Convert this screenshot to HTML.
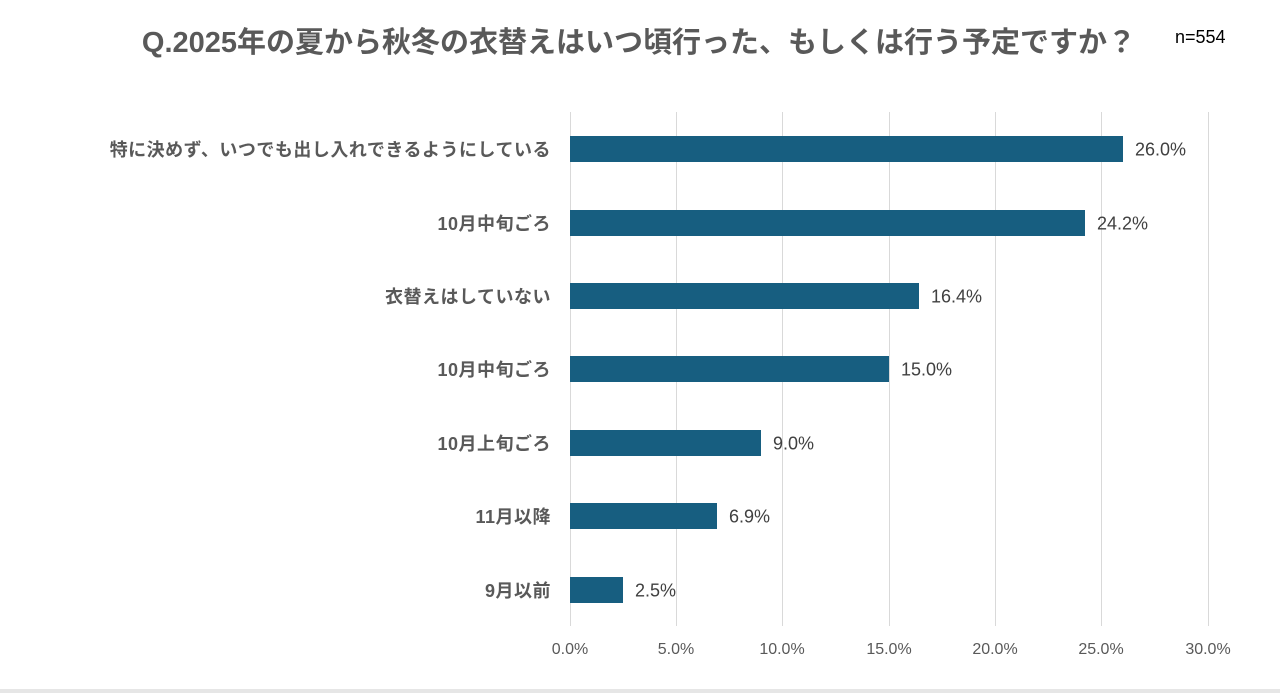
<!DOCTYPE html>
<html><head><meta charset="utf-8"><style>
body{margin:0;width:1280px;height:693px;background:#fff;position:relative;overflow:hidden;font-family:"Liberation Sans","Noto Sans CJK JP",sans-serif}
.t{position:absolute;white-space:nowrap}
.g{position:absolute;top:112px;height:514px;width:1px;background:#d9d9d9}
.b{position:absolute;left:570px;height:26px;background:#175e80}
.l{position:absolute;right:729px;font-size:18px;letter-spacing:0.5px;font-weight:bold;color:#595959;transform:translateY(-50%)}
.v{position:absolute;font-size:18px;color:#404040;transform:translateY(-50%)}
.x{position:absolute;top:641px;font-size:16px;color:#595959;transform:translateX(-50%)}
</style></head><body>
<div class="t" style="left:0;width:1278px;text-align:center;top:19px;font-size:29px;font-weight:bold;color:#595959">Q.2025年の夏から秋冬の衣替えはいつ頃行った、もしくは行う予定ですか？</div>
<div class="t" style="left:1175px;top:27px;font-size:18px;color:#000">n=554</div>
<div class="g" style="left:570px"></div><div class="g" style="left:676px"></div><div class="g" style="left:782px"></div><div class="g" style="left:889px"></div><div class="g" style="left:995px"></div><div class="g" style="left:1101px"></div><div class="g" style="left:1208px"></div>

<div class="b" style="top:136px;width:553px"></div>
<div class="b" style="top:210px;width:515px"></div>
<div class="b" style="top:283px;width:349px"></div>
<div class="b" style="top:356px;width:319px"></div>
<div class="b" style="top:430px;width:191px"></div>
<div class="b" style="top:503px;width:147px"></div>
<div class="b" style="top:577px;width:53px"></div>

<div class="t l" style="top:149px">特に決めず、いつでも出し入れできるようにしている</div>
<div class="t l" style="top:223px">10月中旬ごろ</div>
<div class="t l" style="top:296px">衣替えはしていない</div>
<div class="t l" style="top:369px">10月中旬ごろ</div>
<div class="t l" style="top:443px">10月上旬ごろ</div>
<div class="t l" style="top:516px">11月以降</div>
<div class="t l" style="top:590px">9月以前</div>

<div class="t v" style="left:1135px;top:150px">26.0%</div>
<div class="t v" style="left:1097px;top:224px">24.2%</div>
<div class="t v" style="left:931px;top:297px">16.4%</div>
<div class="t v" style="left:901px;top:370px">15.0%</div>
<div class="t v" style="left:773px;top:444px">9.0%</div>
<div class="t v" style="left:729px;top:517px">6.9%</div>
<div class="t v" style="left:635px;top:591px">2.5%</div>

<div class="t x" style="left:570px">0.0%</div>
<div class="t x" style="left:676px">5.0%</div>
<div class="t x" style="left:782px">10.0%</div>
<div class="t x" style="left:889px">15.0%</div>
<div class="t x" style="left:995px">20.0%</div>
<div class="t x" style="left:1101px">25.0%</div>
<div class="t x" style="left:1208px">30.0%</div>
<div style="position:absolute;left:0;top:689px;width:1280px;height:4px;background:#e6e6e6"></div>
</body></html>
